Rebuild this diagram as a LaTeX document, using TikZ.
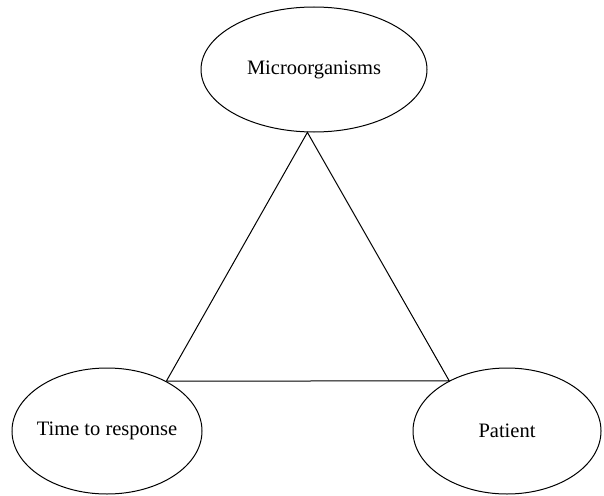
\documentclass[tikz,border=0pt]{standalone}
\usepackage{fontspec}
\setmainfont{Liberation Serif}
\usetikzlibrary{shapes.geometric}

\tikzset{
  blob/.style={ellipse, draw, line width=1pt, inner sep=0pt, font=\fontsize{20.5}{24}\selectfont},
  side/.style={line width=1pt}
}

\begin{document}
\begin{tikzpicture}[x=1pt, y=-1pt]
        % Cornice (dimensioni del riferimento)
        \useasboundingbox (0,0) rectangle (604,495);

        % Fattori
        \node[blob, minimum width=226pt, minimum height=125pt] (micro) at (314,69.5) {Microorganisms};
        \node[blob, inner xsep=-10pt, minimum width=190pt, minimum height=126pt] (time) at (107,431) {Time to response};
        \node[blob, minimum width=188pt, minimum height=126pt] (patient) at (507,431) {Patient};

        % Triangolo
        \draw[side] (micro.264) -- (time.40) -- (patient.139) -- cycle;

    \end{tikzpicture}
\end{document}
